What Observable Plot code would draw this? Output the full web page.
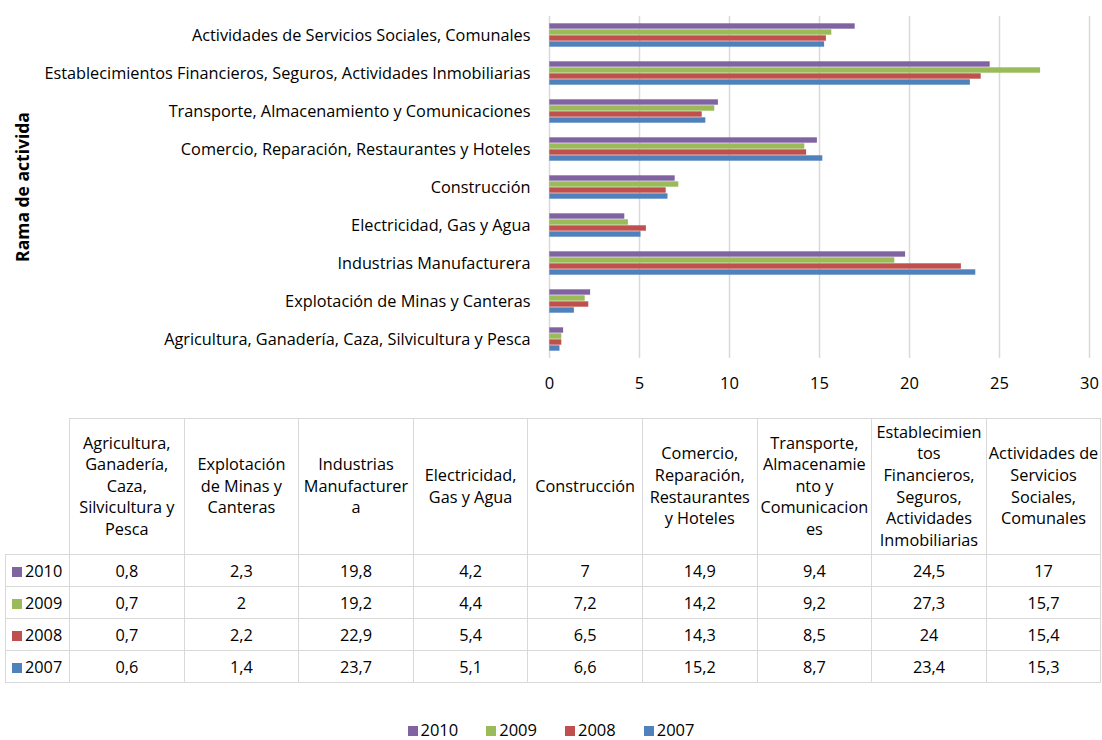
<!DOCTYPE html>
<html>
<head>
<meta charset="utf-8">
<script src="https://cdn.jsdelivr.net/npm/d3@7"></script>
<script src="https://cdn.jsdelivr.net/npm/@observablehq/plot@0.6"></script>
<style>
  body { margin: 0; background: #fff; font-family: "Open Sans", sans-serif; color: #000; }
  #wrap { position: relative; width: 1102px; height: 740px; overflow: hidden; }
  #chart { position: absolute; left: 0; top: 0; }
  #chart svg g[aria-label^="x-axis"] text { font-size: 16.5px; }
  #ytitle { position: absolute; left: 22px; top: 187px; transform: translate(-50%, -50%) rotate(-90deg);
            font-weight: bold; font-size: 17.5px; white-space: nowrap; }
  table { position: absolute; left: 5px; top: 418px; border-collapse: collapse; table-layout: fixed; font-size: 16.3px; }
  td { border: 1.5px solid #d9d9d9; text-align: center; vertical-align: middle; padding: 0; }
  td.head { height: 135px; line-height: 21.6px; white-space: pre; }
  td.blank { border-top: none; border-left: none; }
  td.val { height: 31px; }
  td.yr { text-align: left; padding-left: 6px; white-space: nowrap; }
  .sw { display: inline-block; width: 10px; height: 10px; margin-right: 3px; vertical-align: 0px; }
  #legend { position: absolute; top: 719px; left: 0; width: 1102px; height: 22px; line-height: 22px; text-align: center; font-size: 16.5px; }
  #legend span.item { margin: 0 14px; white-space: nowrap; }
</style>
</head>
<body>
<div id="wrap">
  <div id="chart"></div>
  <div id="ytitle">Rama de activida</div>
  <table id="tbl"></table>
  <div id="legend"></div>
</div>
<script>
const categories = [
  "Agricultura, Ganadería, Caza, Silvicultura y Pesca",
  "Explotación de Minas y Canteras",
  "Industrias Manufacturera",
  "Electricidad, Gas y Agua",
  "Construcción",
  "Comercio, Reparación, Restaurantes y Hoteles",
  "Transporte, Almacenamiento y Comunicaciones",
  "Establecimientos Financieros, Seguros, Actividades Inmobiliarias",
  "Actividades de Servicios Sociales, Comunales"
];
const tableHeaders = [
  "Agricultura,\nGanadería,\nCaza,\nSilvicultura y\nPesca",
  "Explotación\nde Minas y\nCanteras",
  "Industrias\nManufacturer\na",
  "Electricidad,\nGas y Agua",
  "Construcción",
  "Comercio,\nReparación,\nRestaurantes\ny Hoteles",
  "Transporte,\nAlmacenamie\nnto y\nComunicacion\nes",
  "Establecimien\ntos\nFinancieros,\nSeguros,\nActividades\nInmobiliarias",
  "Actividades de\nServicios\nSociales,\nComunales"
];
const years = ["2010", "2009", "2008", "2007"];
const v2010 = [0.8, 2.3, 19.8, 4.2, 7, 14.9, 9.4, 24.5, 17];
const v2009 = [0.7, 2, 19.2, 4.4, 7.2, 14.2, 9.2, 27.3, 15.7];
const v2008 = [0.7, 2.2, 22.9, 5.4, 6.5, 14.3, 8.5, 24, 15.4];
const v2007 = [0.6, 1.4, 23.7, 5.1, 6.6, 15.2, 8.7, 23.4, 15.3];
const colors = ["#8064A2", "#9BBB59", "#C0504D", "#4F81BD"];
const xTicks = [0, 5, 10, 15, 20, 25, 30];

const series = [v2010, v2009, v2008, v2007];
const rows = [];
years.forEach((y, i) => categories.forEach((c, j) => rows.push({year: y, cat: c, value: series[i][j]})));

const chart = Plot.plot({
  width: 1102,
  height: 400,
  marginLeft: 549,
  marginRight: 13,
  marginTop: 14,
  marginBottom: 40,
  style: {fontFamily: "'Open Sans', sans-serif", fontSize: "16.3px", color: "#000", background: "#fff", overflow: "visible"},
  x: {domain: [0, 30], ticks: xTicks, tickSize: 0, tickPadding: 19, label: null},
  y: {domain: years, axis: null, paddingInner: 0.05, paddingOuter: 1.0},
  fy: {domain: categories.slice().reverse(), padding: 0, axis: "left", tickSize: 0, tickPadding: 19, label: null},
  color: {domain: years, range: colors},
  marks: [
    Plot.ruleX(xTicks, {stroke: "#d9d9d9", strokeWidth: 1.5}),
    Plot.barX(rows, {x: "value", y: "year", fy: "cat", fill: "year", inset: 0.3})
  ]
});
document.getElementById("chart").appendChild(chart);

// table
const fmt = v => String(v).replace(".", ",");
const tbl = document.getElementById("tbl");
let html = '<colgroup><col style="width:64px">' + categories.map(() => '<col style="width:114.6px">').join("") + '</colgroup>';
html += '<tr><td class="head blank"></td>' + tableHeaders.map(h => `<td class="head">${h}</td>`).join("") + '</tr>';
years.forEach((y, i) => {
  html += `<tr><td class="val yr"><span class="sw" style="background:${colors[i]}"></span>${y}</td>` +
    series[i].map(v => `<td class="val">${fmt(v)}</td>`).join("") + '</tr>';
});
tbl.innerHTML = html;

// legend
document.getElementById("legend").innerHTML = years.map((y, i) =>
  `<span class="item"><span class="sw" style="background:${colors[i]}"></span>${y}</span>`).join("");
</script>
</body>
</html>
